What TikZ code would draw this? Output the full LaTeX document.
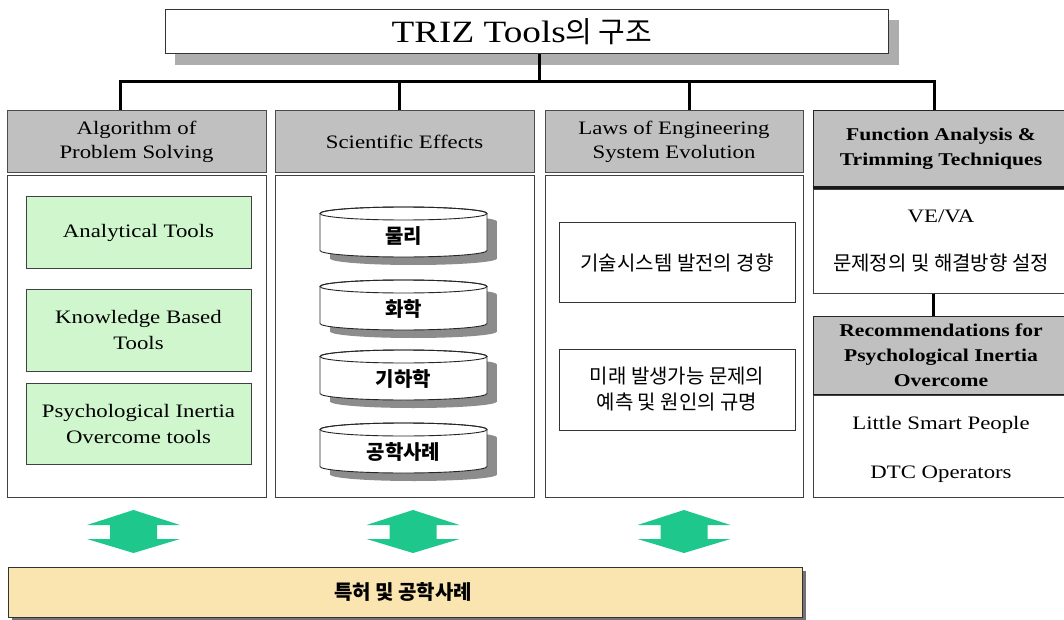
\documentclass[tikz,border=0pt]{standalone}
\usepackage{fontspec}
\setmainfont{Liberation Serif}[FakeStretch=1.2]
\newfontfamily\kr{Noto Sans CJK KR}
\definecolor{hdr}{RGB}{192,192,192}
\definecolor{lgreen}{RGB}{208,246,206}
\definecolor{agreen}{RGB}{30,200,140}
\definecolor{wheatc}{RGB}{250,228,175}
\newcommand\mycyl[3]{%
  \fill[black!45] (330,{-(#2+14.5)}) rectangle (497,{-(#2+51.5)});
  \fill[black!45] (413.5,{-(#2+51.5)}) ellipse [x radius=83.5, y radius=6.5];
  \fill[black!45] (413.5,{-(#2+14.5)}) ellipse [x radius=83.5, y radius=6.5];
  \filldraw[fill=white, draw=black!85, line width=0.9pt] (320,{-(#2+6.5)}) -- (320,{-(#2+43.5)})
     arc[start angle=180, end angle=360, x radius=83.5, y radius=6.5] -- (487,{-(#2+6.5)})
     arc[start angle=0, end angle=180, x radius=83.5, y radius=6.5] -- cycle;
  \draw[black!85, line width=0.9pt] (403.5,{-(#2+6.5)}) ellipse [x radius=83.5, y radius=6.5];
  \node[cyltext] (#1) at (403.5,{-(#2+29)}) {#3};
}
\newcommand\myarrow[1]{%
  \fill[agreen] (#1,-510) -- ({#1+46.5},-525) -- ({#1+23.5},-525) -- ({#1+23.5},-539)
    -- ({#1+46.5},-539) -- (#1,-553) -- ({#1-46.5},-539) -- ({#1-23.5},-539)
    -- ({#1-23.5},-525) -- ({#1-46.5},-525) -- cycle;
}
\begin{document}
\begin{tikzpicture}[x=1pt, y=1pt,
  conn/.style={line width=3pt, black, line join=miter},
  hdrbox/.style={draw=black!70, line width=1pt, fill=hdr, inner sep=0pt, align=center,
    font=\fontsize{19}{24}\selectfont},
  colbody/.style={draw=black!75, line width=1pt, fill=white, inner sep=0pt},
  greenbox/.style={draw=black!75, line width=1pt, fill=lgreen, inner sep=0pt, align=center,
    minimum width=225pt, font=\fontsize{19}{26}\selectfont},
  krbox/.style={draw=black!80, line width=1pt, fill=white, inner sep=0pt, align=center,
    minimum width=236pt, font=\kr\fontsize{20}{26}\selectfont},
  plain/.style={inner sep=0pt, font=\fontsize{19}{24}\selectfont},
  krplain/.style={inner sep=0pt, font=\kr\fontsize{20}{24}\selectfont},
  cyltext/.style={inner sep=0pt, font=\kr\bfseries\fontsize{20}{24}\selectfont}]
\useasboundingbox (0,0) rectangle (1064,-620);
\fill[white] (0,0) rectangle (1064,-620);

% title
\fill[black!32] (175,-20) rectangle (899,-65);
\node[draw=black!80, line width=1pt, fill=white, minimum width=723pt, minimum height=44pt, inner sep=0pt]
  (title) at (526.5,-32) {};
\node[inner sep=0pt, font=\fontsize{31}{36}\selectfont] (ttext) at (522,-32) {TRIZ Tools{\kr\fontsize{29}{36}\selectfont 의 구조}};

% headers
\node[hdrbox, minimum width=259pt, minimum height=62pt] (h1) at (136.5,-142) {Algorithm of\\Problem Solving};
\node[hdrbox, minimum width=259pt, minimum height=62pt] (h2) at (404.5,-142) {Scientific Effects};
\node[hdrbox, minimum width=258pt, minimum height=62pt] (h3) at (674,-142) {Laws of Engineering\\System Evolution};
\node[hdrbox, draw=black!85, minimum width=257pt, minimum height=76pt] (h4) at (941.5,-149) {};
\node[inner sep=0pt, align=center, font=\bfseries\fontsize{18}{25}\selectfont] (h4t) at (941,-149) {Function Analysis \&\\Trimming Techniques};
\draw[line width=2.2pt, black!90] (h4.south west) -- (h4.south east);

% bodies
\node[colbody, minimum width=259pt, minimum height=321pt] (b1) at (136.5,-336.5) {};
\node[colbody, minimum width=259pt, minimum height=321pt] (b2) at (404.5,-336.5) {};
\node[colbody, minimum width=258pt, minimum height=321pt] (b3) at (674,-336.5) {};
\node[colbody, minimum width=257pt, minimum height=103pt] (b4) at (941.5,-241.5) {};
\node[hdrbox, draw=black!85, minimum width=257pt, minimum height=79pt] (r4) at (941.5,-355.5) {};
\node[inner sep=0pt, align=center, font=\bfseries\fontsize{18}{25}\selectfont] (r4t) at (941,-355.5) {Recommendations for\\Psychological Inertia\\Overcome};
\draw[line width=2.2pt, black!90] (r4.south west) -- (r4.south east);
\node[colbody, minimum width=257pt, minimum height=102pt] (s4) at (941.5,-446.5) {};

% connectors
\coordinate (bus) at (539,-82);
\coordinate (d1) at (120,-82);
\coordinate (d2) at (399,-82);
\coordinate (d3) at (689,-82);
\coordinate (d4) at (934,-82);
\coordinate (k4) at (933,0);
\draw[conn] (title.south -| bus) -- (bus);
\draw[conn] (h1.north -| d1) |- (d4) -- (h4.north -| d4);
\draw[conn] (d2) -- (h2.north -| d2);
\draw[conn] (d3) -- (h3.north -| d3);
\draw[conn] (b4.south -| k4) -- (r4.north -| k4);

% column 1
\node[greenbox, minimum height=71pt] (g1) at (138.5,-232.5) {Analytical Tools};
\node[greenbox, minimum height=82pt] (g2) at (138.5,-330) {Knowledge Based\\Tools};
\node[greenbox, minimum height=81pt] (g3) at (138.5,-423.5) {Psychological Inertia\\Overcome tools};

% column 2
\mycyl{cy1}{207}{물리}
\mycyl{cy2}{280}{화학}
\mycyl{cy3}{350}{기하학}
\mycyl{cy4}{423}{공학사례}

% column 3
\node[krbox, minimum height=79pt] (c1) at (677,-262.5) {기술시스템 발전의 경향};
\node[krbox, minimum height=81pt] (c2) at (677,-389.5) {미래 발생가능 문제의\\예측 및 원인의 규명};

% column 4
\node[plain] (t1) at (941,-216) {VE/VA};
\node[krplain] (t2) at (941,-263) {문제정의 및 해결방향 설정};
\node[plain] (t3) at (941,-425) {Little Smart People};
\node[plain] (t4) at (941,-474) {DTC Operators};

% arrows
\myarrow{133.5}
\myarrow{413}
\myarrow{684}

% bottom box
\fill[black!55] (12,-571) rectangle (806,-621);
\node[draw=black!80, line width=1pt, fill=wheatc, minimum width=794pt, minimum height=50pt, inner sep=0pt] (base) at (405,-592) {};
\node[inner sep=0pt, font=\kr\bfseries\fontsize{20}{24}\selectfont] (baset) at (403,-592) {특허 및 공학사례};
\end{tikzpicture}
\end{document}
